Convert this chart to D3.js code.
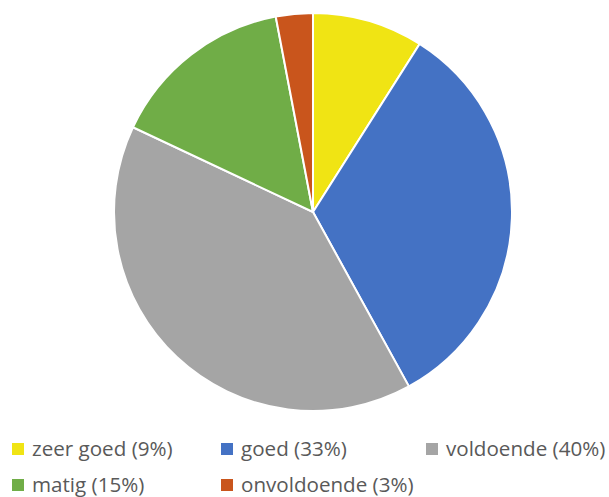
<!DOCTYPE html>
<html>
<head>
<meta charset="utf-8">
<script src="https://cdn.jsdelivr.net/npm/d3@7"></script>
<style>
  body { margin: 0; background: #fff; }
  svg { display: block; }
</style>
</head>
<body>
<svg id="chart" width="609" height="497"></svg>
<script>
const categories = ["zeer goed", "goed", "voldoende", "matig", "onvoldoende"];
const values = [9, 33, 40, 15, 3];
const colors = ["#f0e414", "#4472c4", "#a5a5a5", "#70ad47", "#c9551c"];

const width = 609, height = 497;
const cx = 313, cy = 212, radius = 199;

const svg = d3.select("#chart");

const pie = d3.pie().sort(null).value(d => d.value);
const arc = d3.arc().innerRadius(0).outerRadius(radius);

const data = categories.map((c, i) => ({ name: c, value: values[i], color: colors[i] }));

const g = svg.append("g").attr("transform", "translate(" + cx + "," + cy + ")");

g.selectAll("path")
  .data(pie(data))
  .enter().append("path")
  .attr("d", arc)
  .attr("fill", d => d.data.color)
  .attr("stroke", "#fff")
  .attr("stroke-width", 2);

// legend, 3 per row
const colX = [12, 221, 426];
const rowY = [456, 492];

const leg = svg.selectAll(".leg")
  .data(data)
  .enter().append("g")
  .attr("class", "leg")
  .attr("transform", (d, i) => "translate(" + colX[i % 3] + "," + rowY[Math.floor(i / 3)] + ")");

leg.append("rect")
  .attr("x", 0).attr("y", -13)
  .attr("width", 12).attr("height", 12)
  .attr("fill", d => d.color);

leg.append("text")
  .attr("x", 20)
  .attr("y", 0)
  .attr("font-family", "Open Sans, sans-serif")
  .attr("font-size", 20.6)
  .attr("fill", "#595959")
  .text(d => d.name + " (" + d.value + "%)");
</script>
</body>
</html>
